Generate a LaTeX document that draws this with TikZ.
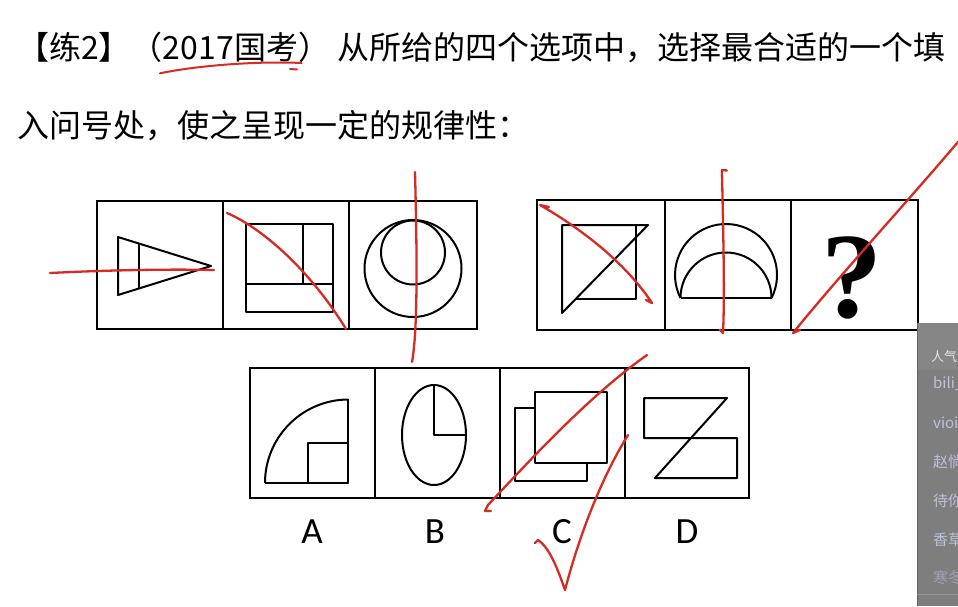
\documentclass[tikz,border=0pt]{standalone}
\usepackage{fontspec}
\newfontfamily\cjk{Noto Sans CJK SC}
\newfontfamily\lblfont{Carlito}
\newfontfamily\qfont{Liberation Serif}
\definecolor{pen}{RGB}{214,42,34}
\definecolor{panel}{RGB}{126,126,126}
\definecolor{panelhead}{RGB}{134,134,134}
\definecolor{paneledge}{RGB}{96,96,96}
\definecolor{itemtxt}{RGB}{190,194,218}
\tikzset{
  boxline/.style={draw=black, line width=2.4pt},
  figline/.style={draw=black, line width=2pt, line join=round},
  redpen/.style={draw=pen, line width=2.3pt, line cap=round, line join=round},
  optlabel/.style={font=\lblfont\fontsize{37}{40}\selectfont, anchor=base, inner sep=0},
  titletxt/.style={font=\cjk\fontsize{32}{38}\selectfont, anchor=base west, inner sep=0},
  itemlabel/.style={font=\cjk\fontsize{15}{17}\selectfont, anchor=west, inner sep=0, text=itemtxt}
}
\begin{document}
\begin{tikzpicture}[x=1pt,y=-1pt]
\useasboundingbox (0,0) rectangle (958,606);
\fill[white] (0,0) rectangle (958,606);

% title
\node[titletxt] (t1a) at (17,59.5) {【练2】（2017国考）};
\node[titletxt] (t1b) at (337,59.5) {从所给的四个选项中，选择最合适的一个填};
\node[titletxt] (t2) at (17,137) {入问号处，使之呈现一定的规律性：};

% ---- row 1 left
\draw[boxline] (97,201) rectangle (477,329);
\draw[boxline] (223,201) -- (223,329);
\draw[boxline] (349,201) -- (349,329);
% cell 1: triangle
\draw[figline] (118,237) -- (211,266) -- (118,295) -- cycle;
\draw[figline] (139,243.5) -- (139,288.5);
% cell 2: square
\draw[figline] (246,224) rectangle (333,312);
\draw[figline] (303,224) -- (303,284);
\draw[figline] (246,284) -- (333,284);
% cell 3: circles
\draw[figline] (413,268.5) circle[radius=48.5];
\draw[figline] (413,252.5) circle[radius=32];

% ---- row 1 right
\draw[boxline] (537,200) rectangle (918,330);
\draw[boxline] (665,200) -- (665,330);
\draw[boxline] (791,200) -- (791,330);
% cell 4
\draw[figline] (562,313) -- (562,225) -- (648,225) -- cycle;
\draw[figline] (636,225) -- (636,299) -- (575.7,299);
% cell 5
\draw[figline] (680.5,298) arc[start angle=153.2, end angle=386.8, radius=51];
\draw[figline] (680.5,298) arc[start angle=180, end angle=360, radius=45.5];
\draw[figline, line width=2.6pt] (680.5,298) -- (771.5,298);
% cell 6
\node[font=\qfont\bfseries\fontsize{122}{122}\selectfont, anchor=base, inner sep=0] (q) at (852,317) {?};

% ---- options
\draw[boxline] (250,368) rectangle (749,498);
\draw[boxline] (375,368) -- (375,498);
\draw[boxline] (500,368) -- (500,498);
\draw[boxline] (625,368) -- (625,498);
% A
\draw[figline] (265,483) -- (348,483) -- (348,399);
\draw[figline] (265,483) arc[start angle=180, end angle=270, radius=83.5];
\draw[figline] (308,443) rectangle (348,483);
% B
\draw[figline] (434,435) ellipse[x radius=32, y radius=50];
\draw[figline] (434,385) -- (434,435) -- (466,435);
% C
\draw[figline] (515,408) rectangle (587,481);
\draw[figline, fill=white] (535,392) rectangle (607,463);
% D
\draw[figline] (727,398) -- (644,398) -- (644,438) -- (737,438) -- (737,478) -- (655,478) -- cycle;

\node[optlabel] (la) at (312,543) {A};
\node[optlabel] (lb) at (435,543) {B};
\node[optlabel] (lc) at (562,543) {C};
\node[optlabel] (ld) at (687,543) {D};

% ---- side panel
\begin{scope}
\clip (917,323) rectangle (958,606);
\fill[panel] (917,323) rectangle (958,606);
\fill[panelhead] (917,323) rectangle (958,370);
\draw[paneledge, line width=1.5pt] (917.5,323) -- (917.5,606);
\draw[color={rgb,255:red,150;green,150;blue,150}, line width=1pt] (917,594) -- (958,594);
\node[itemlabel, font=\cjk\fontsize{13}{15}\selectfont, text={rgb,255:red,228;green,228;blue,228}] (h) at (931,357) {人气};
\node[itemlabel] (i1) at (933,384) {bili\_};
\node[itemlabel] (i2) at (933,423) {vioi};
\node[itemlabel] (i3) at (933,462) {赵惝};
\node[itemlabel] (i4) at (933,501) {待你};
\node[itemlabel] (i5) at (933,540) {香草};
\node[itemlabel, text={rgb,255:red,160;green,162;blue,180}] (i6) at (933,578) {寒冬};
\end{scope}

% ---- red pen marks
\draw[redpen, line width=2pt] (160,73.3) .. controls (200,65) and (260,61) .. (301.7,63);
\draw[redpen, line width=2pt] (290,69) -- (297,69.5);
\draw[redpen] (50,273) .. controls (110,270) and (170,269) .. (214,270);
\draw[redpen] (227,213) .. controls (262,228) and (310,270) .. (346,329);
\draw[redpen] (415,172) .. controls (417,250) and (418,330) .. (412,362);
\draw[redpen] (549,207) -- (540,205) .. controls (580,228) and (625,262) .. (652,303) -- (646,300);
\draw[redpen] (727,170.5) -- (722,170) .. controls (723,230) and (725,290) .. (723,333) -- (720,330);
\draw[redpen] (958,142) .. controls (900,210) and (840,275) .. (793,333) -- (800,330);
\draw[redpen] (647,355) .. controls (590,395) and (530,460) .. (488,505) -- (485,511) -- (491,511);
\draw[redpen] (535,543) -- (538,540) .. controls (550,548) and (558,570) .. (565,590) .. controls (578,540) and (600,480) .. (628,435);
\end{tikzpicture}
\end{document}
